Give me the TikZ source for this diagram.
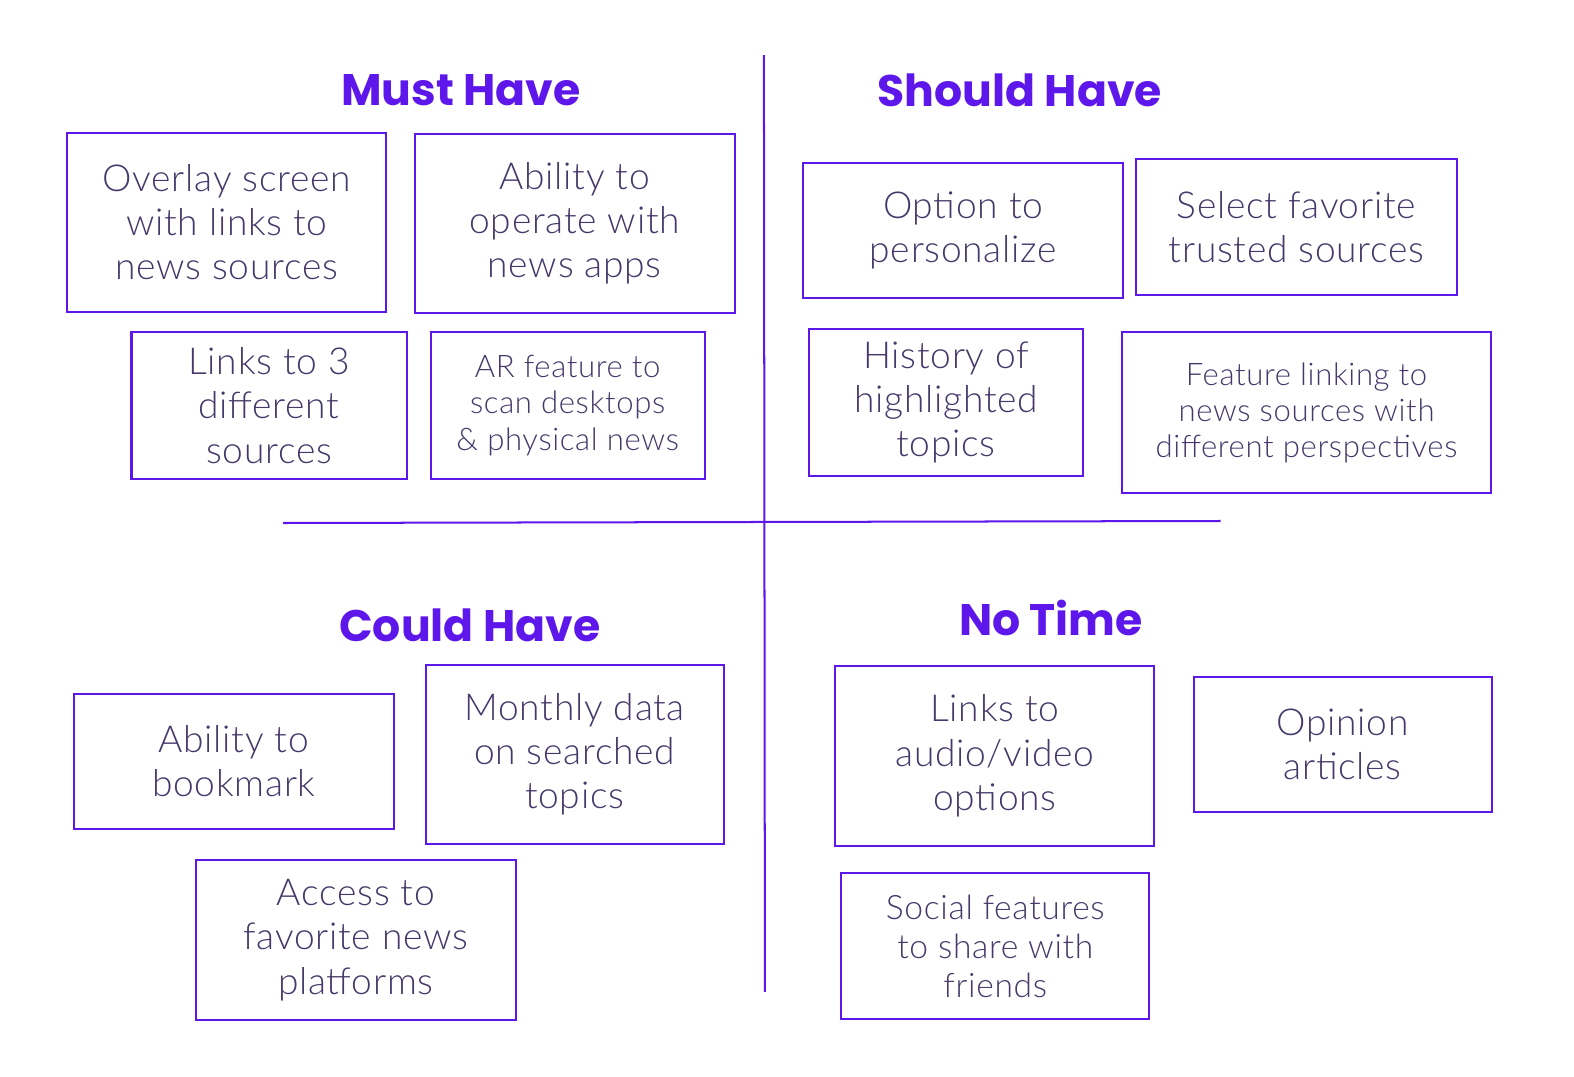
\documentclass[tikz,border=0pt]{standalone}
\usepackage{fontspec}
\setmainfont{Lato Light}[LetterSpace=2]
\newfontfamily\headfont{Poppins}
\definecolor{accent}{HTML}{5E17EB}
\definecolor{inktext}{HTML}{46386A}
\begin{document}
\begin{tikzpicture}[x=1pt,y=-1pt,
  card/.style={draw=accent, line width=2pt, align=center, text=inktext,
    inner sep=0pt, font=\fontsize{37}{44}\selectfont},
  smallcard/.style={card, font=\fontsize{31}{36}\selectfont},
  midcard/.style={card, font=\fontsize{33.5}{39}\selectfont},
  heading/.style={text=accent, font=\headfont\bfseries\fontsize{44}{52}\selectfont},
  divider/.style={draw=accent, line width=2pt}]
\path[use as bounding box, fill=white] (0,0) rectangle (1568,1072);

% quadrant dividers
\coordinate (vtop) at (761,55);
\coordinate (vbot) at (762,988);
\coordinate (hleft) at (282,521);
\coordinate (hright) at (1216,519);
\draw[divider] (vtop) -- (vbot);
\draw[divider] (hleft) -- (hright);

% headings
\node[heading] (must) at (459,90) {Must Have};
\node[heading] (should) at (1016,90) {Should Have};
\node[heading] (could) at (468,623) {Could Have};
\node[heading] (notime) at (1047,616) {No Time};

% Must Have
\node[card, minimum width=318, minimum height=179] (m1) at (226,221.5)
  {Overlay screen\\with links to\\news sources};
\node[card, minimum width=319, minimum height=179] (m2) at (572.5,222.5)
  {Ability to\\operate with\\news apps};
\node[card, minimum width=274, minimum height=146] (m3) at (268,404)
  {Links to 3\\different\\sources};
\node[smallcard, minimum width=273, minimum height=146] (m4) at (565.5,404)
  {AR feature to\\scan desktops\\\& physical news};

% Should Have
\node[card, minimum width=319, minimum height=135] (s1) at (959.5,229.5)
  {Option to\\personalize};
\node[card, minimum width=319, minimum height=136] (s2) at (1291.5,226)
  {Select favorite\\trusted sources};
\node[card, minimum width=273, minimum height=146] (s3) at (942.5,401)
  {History of\\highlighted\\topics};
\node[smallcard, minimum width=367, minimum height=160] (s4) at (1301.5,411)
  {Feature linking to\\news sources with\\different perspectives};

% Could Have
\node[card, minimum width=318, minimum height=135] (c1) at (233,758.5)
  {Ability to\\bookmark};
\node[card, minimum width=297, minimum height=179] (c2) at (572.5,751.5)
  {Monthly data\\on searched\\topics};
\node[card, minimum width=319, minimum height=159] (c3) at (354.5,936.5)
  {Access to\\favorite news\\platforms};

% No Time
\node[card, minimum width=318, minimum height=180] (n1) at (991,753)
  {Links to\\audio/video\\options};
\node[card, minimum width=297, minimum height=135] (n2) at (1337.5,741.5)
  {Opinion\\articles};
\node[midcard, minimum width=307, minimum height=146] (n3) at (991.5,942.5)
  {Social features\\to share with\\friends};
\end{tikzpicture}
\end{document}
